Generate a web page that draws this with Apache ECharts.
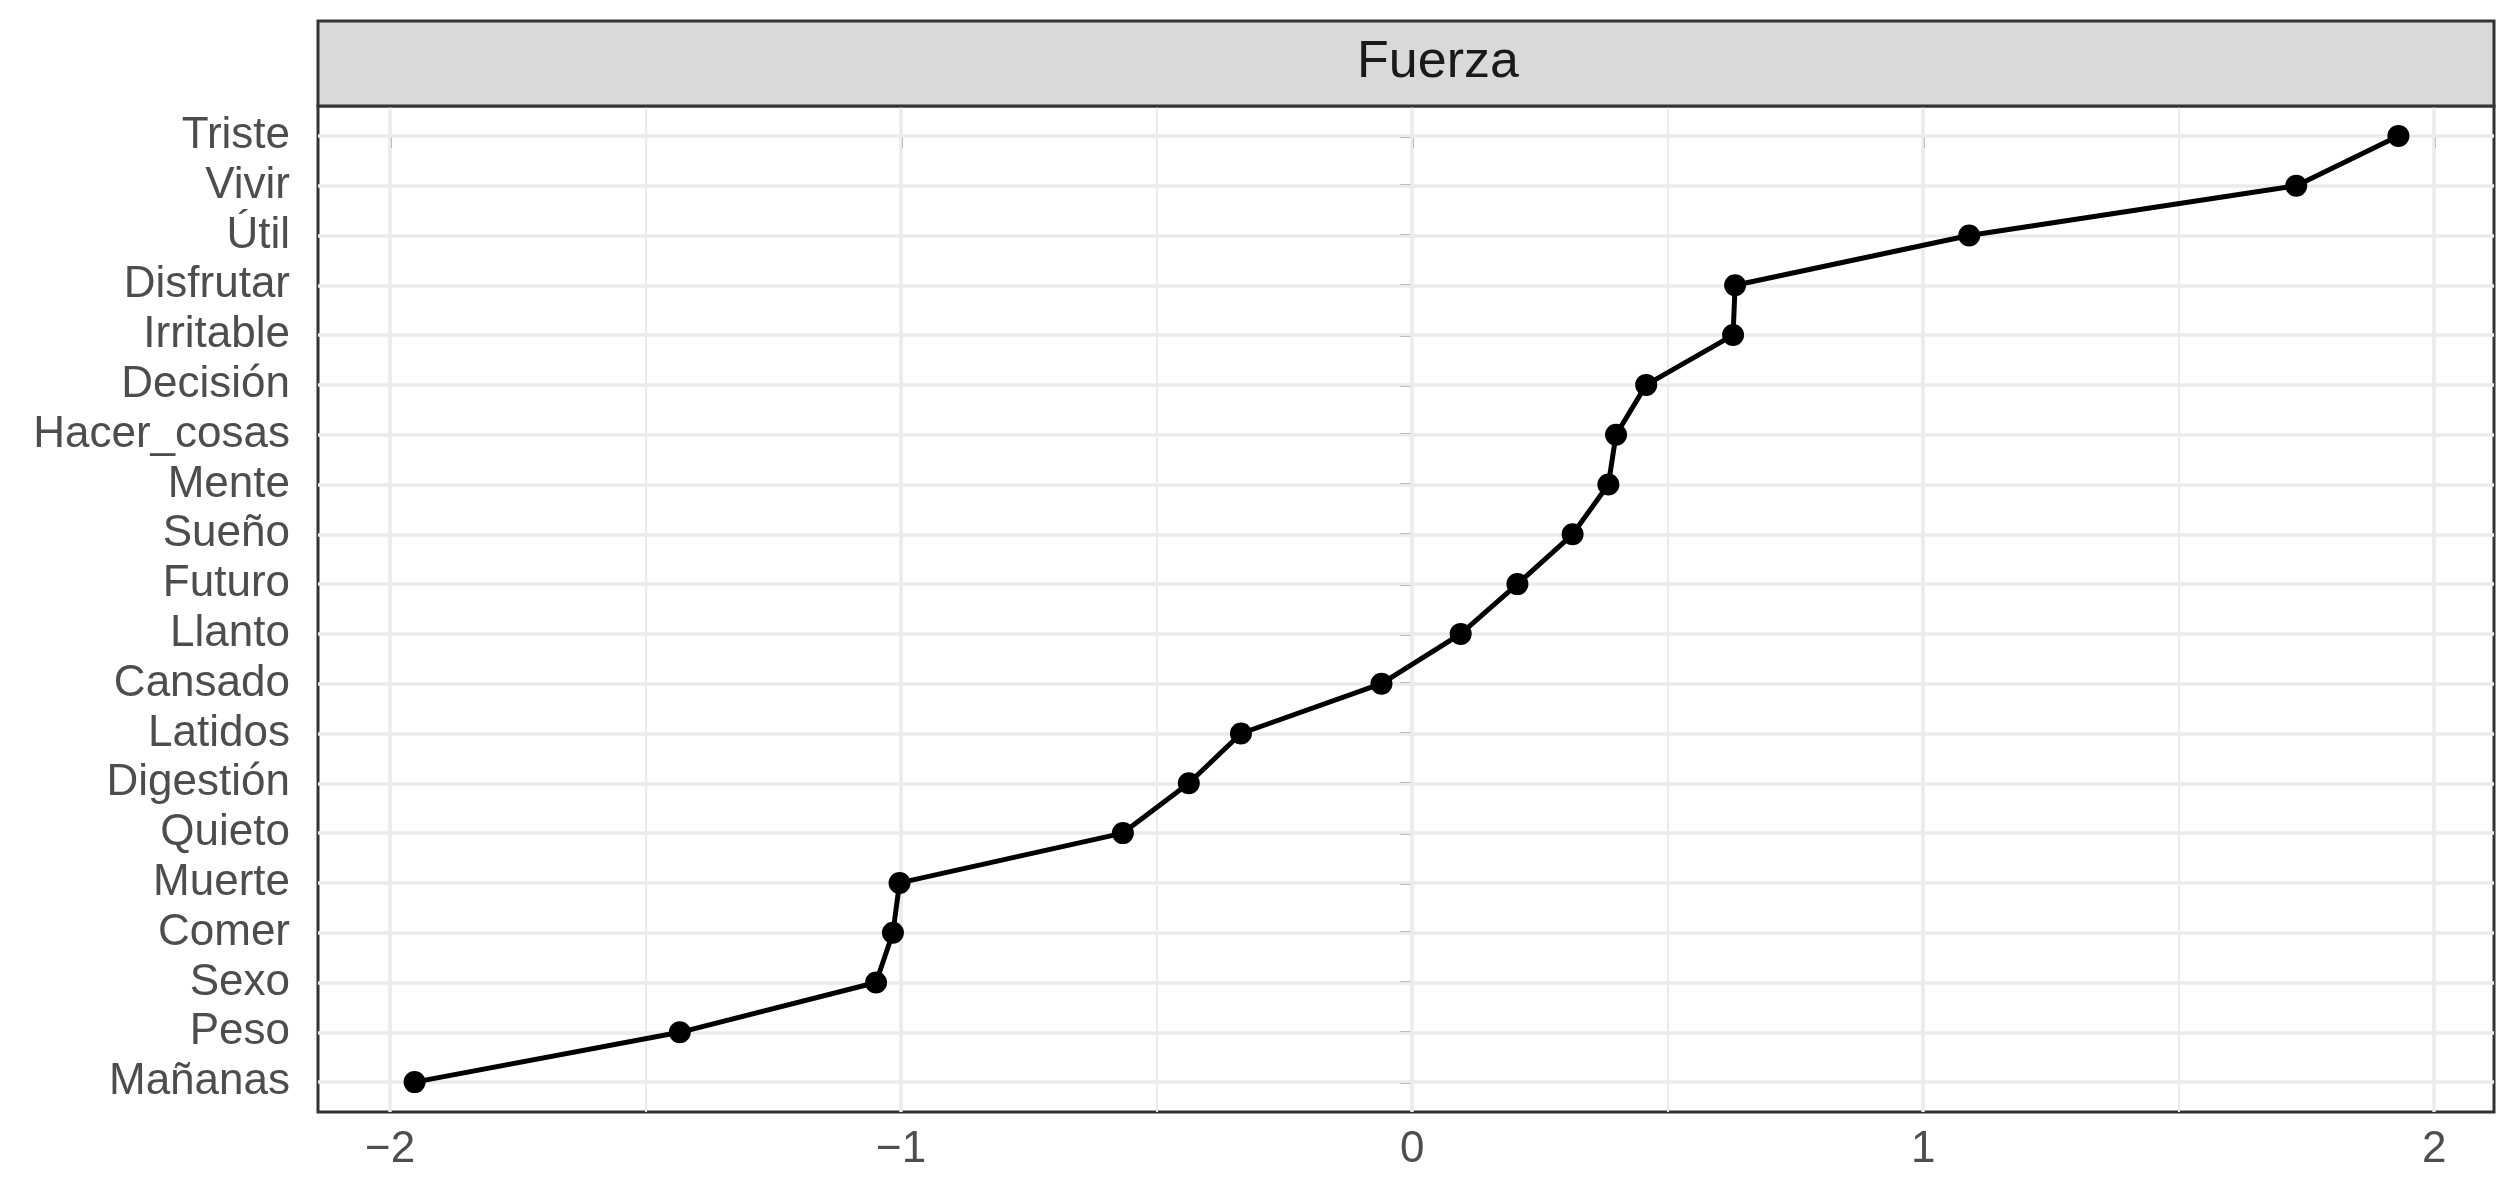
<!DOCTYPE html>
<html>
<head>
<meta charset="utf-8">
<title>Fuerza</title>
<script src="https://cdn.jsdelivr.net/npm/echarts@6/dist/echarts.min.js"></script>
<style>
  html, body { margin: 0; padding: 0; background: #fff; }
  #chart { width: 2508px; height: 1179px; }
</style>
</head>
<body>
<div id="chart"></div>
<script>
// categories from top to bottom
const categories = ["Triste", "Vivir", "Útil", "Disfrutar", "Irritable", "Decisión", "Hacer_cosas",
  "Mente", "Sueño", "Futuro", "Llanto", "Cansado", "Latidos", "Digestión", "Quieto",
  "Muerte", "Comer", "Sexo", "Peso", "Mañanas"];
const fuerza = [1.93, 1.73, 1.09, 0.632, 0.628, 0.458, 0.399, 0.384, 0.314, 0.206, 0.095,
  -0.06, -0.335, -0.437, -0.566, -1.003, -1.016, -1.049, -1.433, -1.952];
const xTicks = [-2, -1, 0, 1, 2];
const xMinor = [-1.5, -0.5, 0.5, 1.5];
const stripTitle = "Fuerza";

const font = "Liberation Sans";
const gridColor = "#EBEBEB";
const catIdx = categories.map((c, i) => i);

const gridLines = [];
xTicks.forEach(v => gridLines.push({ xAxis: v, lineStyle: { width: 3.5 } }));
xMinor.forEach(v => gridLines.push({ xAxis: v, lineStyle: { width: 2 } }));
catIdx.forEach(i => gridLines.push({ yAxis: i, lineStyle: { width: 3.5 } }));

const chart = echarts.init(document.getElementById("chart"));
const option = {
  animation: false,
  backgroundColor: "#ffffff",
  grid: {
    left: 318,
    right: 14,
    top: 106,
    bottom: 67,
    show: true,
    backgroundColor: "#ffffff",
    borderColor: "#333333",
    borderWidth: 3,
  },
  graphic: [
    {
      type: "rect",
      shape: { x: 318, y: 21, width: 2176, height: 85 },
      style: { fill: "#D9D9D9", stroke: "#333333", lineWidth: 3 },
      z: 10,
    },
    {
      type: "text",
      x: 1438,
      y: 63,
      style: {
        text: stripTitle,
        fontFamily: font,
        fontSize: 52,
        fill: "#1A1A1A",
        textAlign: "center",
        textVerticalAlign: "middle",
      },
      z: 11,
    },
  ],
  xAxis: {
    type: "value",
    min: -2.141,
    max: 2.117,
    axisLine: { show: false },
    splitLine: { show: false },
    axisTick: {
      show: true,
      customValues: xTicks,
      length: 12,
      lineStyle: { color: "#333333", width: 3 },
    },
    axisLabel: {
      customValues: xTicks,
      margin: 16,
      fontFamily: font,
      fontSize: 44,
      color: "#4D4D4D",
      formatter: function (v) {
        return v < 0 ? "\u2212" + Math.abs(v) : String(v);
      },
    },
  },
  yAxis: {
    type: "value",
    inverse: true,
    min: -0.6,
    max: categories.length - 0.4,
    axisLine: { show: false },
    splitLine: { show: false },
    axisTick: {
      show: true,
      customValues: catIdx,
      length: 12,
      lineStyle: { color: "#333333", width: 3 },
    },
    axisLabel: {
      customValues: catIdx,
      margin: 28,
      fontFamily: font,
      fontSize: 44,
      color: "#4D4D4D",
      formatter: function (v) {
        return categories[Math.round(v)];
      },
    },
  },
  series: [
    {
      // panel grid lines
      type: "line",
      data: [],
      z: 1,
      silent: true,
      markLine: {
        silent: true,
        symbol: ["none", "none"],
        label: { show: false },
        lineStyle: { color: gridColor, type: "solid" },
        data: gridLines,
      },
    },
    {
      name: stripTitle,
      type: "line",
      z: 5,
      data: fuerza.map((v, i) => [v, i]),
      symbol: "circle",
      symbolSize: 22,
      itemStyle: { color: "#000000" },
      lineStyle: { color: "#000000", width: 5 },
    },
  ],
};
chart.setOption(option);
</script>
</body>
</html>
